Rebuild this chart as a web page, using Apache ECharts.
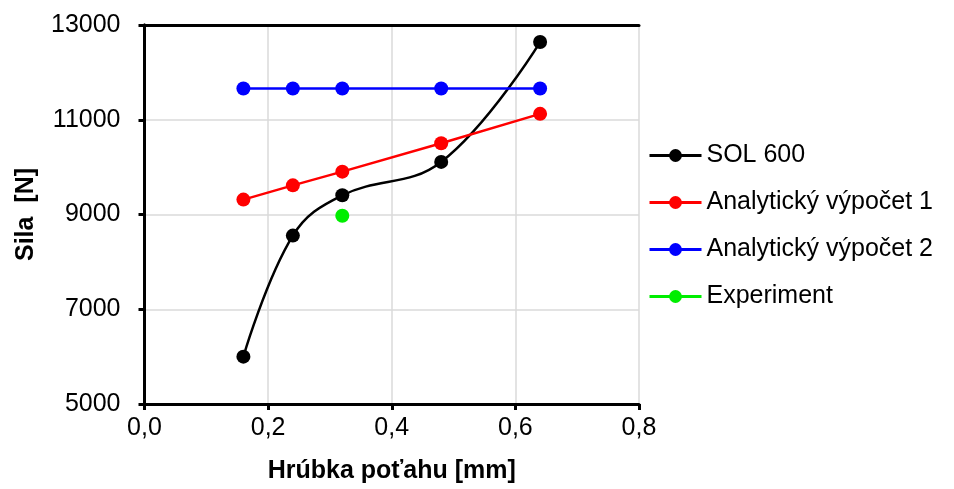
<!DOCTYPE html>
<html>
<head>
<meta charset="utf-8">
<script src="https://cdn.jsdelivr.net/npm/echarts@6/dist/echarts.min.js"></script>
<style>
  html, body { margin: 0; padding: 0; background: #fff; }
  #chart { width: 954px; height: 489px; }
</style>
</head>
<body>
<div id="chart"></div>
<script>
// Thickness of the skin [mm]
const thickness = [0.16, 0.24, 0.32, 0.48, 0.64];

// Force [N] per method
const sol600 = [6000, 8555, 9405, 10110, 12640];
const analytic1 = [9315, 9615, 9905, 10505, 11125];
const analytic2 = [11660, 11660, 11660, 11660, 11660];
const experimentX = [0.32];
const experimentY = [8975];

const seriesNames = ['SOL 600', 'Analytický výpočet 1', 'Analytický výpočet 2', 'Experiment'];
const seriesColors = ['#000000', '#ff0000', '#0000ff', '#00ee00'];

const xTicks = { min: 0, max: 0.8, step: 0.2 };
const yTicks = { min: 5000, max: 13000, step: 2000 };

const pairs = (xs, ys) => xs.map((x, i) => [x, ys[i]]);

const FONT = '"Liberation Sans", Arial, sans-serif';
const FS = 25;

const chart = echarts.init(document.getElementById('chart'));

function lineSeries(name, data, color, smooth) {
  return {
    name: name,
    type: 'line',
    xAxisIndex: 0,
    yAxisIndex: 0,
    data: data,
    smooth: smooth,
    symbol: 'circle',
    symbolSize: 14,
    lineStyle: { color: color, width: 2.5 },
    itemStyle: { color: color },
    emphasis: { disabled: true },
    animation: false
  };
}

// plain frame lines for the top and right edges of the plot box
const frameAxis = {
  show: true,
  axisLine: { show: true, lineStyle: { color: '#000', width: 3 } },
  axisTick: { show: false },
  axisLabel: { show: false },
  splitLine: { show: false }
};

chart.setOption({
  backgroundColor: '#ffffff',
  animation: false,
  textStyle: { fontFamily: FONT },
  grid: { left: 144.5, right: 315, top: 25, bottom: 84 },
  legend: {
    orient: 'vertical',
    left: 643,
    top: 138,
    itemWidth: 52,
    itemHeight: 16,
    itemGap: 22,
    data: seriesNames,
    lineStyle: { width: 3 },
    textStyle: { fontFamily: FONT, fontSize: FS, color: '#000', lineHeight: 25 }
  },
  xAxis: [{
    type: 'value',
    min: xTicks.min, max: xTicks.max, interval: xTicks.step,
    name: 'Hrúbka poťahu [mm]',
    nameLocation: 'middle',
    nameGap: 55,
    nameTextStyle: { fontFamily: FONT, fontSize: FS, fontWeight: 'bold', color: '#000' },
    axisLine: { onZero: false, lineStyle: { color: '#000', width: 3 } },
    axisTick: { show: true, inside: false, length: 6, lineStyle: { color: '#000', width: 3 } },
    axisLabel: {
      margin: 12, fontFamily: FONT, fontSize: FS, color: '#000',
      formatter: v => v.toFixed(1).replace('.', ',')
    },
    splitLine: { show: true, lineStyle: { color: '#dadada', width: 1.5 } }
  }, Object.assign({
    type: 'value', position: 'top',
    min: xTicks.min, max: xTicks.max, interval: xTicks.step
  }, frameAxis)],
  yAxis: [{
    type: 'value',
    min: yTicks.min, max: yTicks.max, interval: yTicks.step,
    name: 'Sila  [N]',
    nameLocation: 'middle',
    nameGap: 106,
    nameTextStyle: { fontFamily: FONT, fontSize: FS, fontWeight: 'bold', color: '#000' },
    axisLine: { onZero: false, lineStyle: { color: '#000', width: 3 } },
    axisTick: { show: true, inside: false, length: 6, lineStyle: { color: '#000', width: 3 } },
    axisLabel: { margin: 24, fontFamily: FONT, fontSize: FS, color: '#000', formatter: v => String(v) },
    splitLine: { show: true, lineStyle: { color: '#dadada', width: 1.5 } }
  }, Object.assign({
    type: 'value', position: 'right',
    min: yTicks.min, max: yTicks.max, interval: yTicks.step
  }, frameAxis)],
  series: [
    lineSeries(seriesNames[0], pairs(thickness, sol600), seriesColors[0], 0.4),
    lineSeries(seriesNames[1], pairs(thickness, analytic1), seriesColors[1], false),
    lineSeries(seriesNames[2], pairs(thickness, analytic2), seriesColors[2], false),
    lineSeries(seriesNames[3], pairs(experimentX, experimentY), seriesColors[3], false)
  ]
});
</script>
</body>
</html>
